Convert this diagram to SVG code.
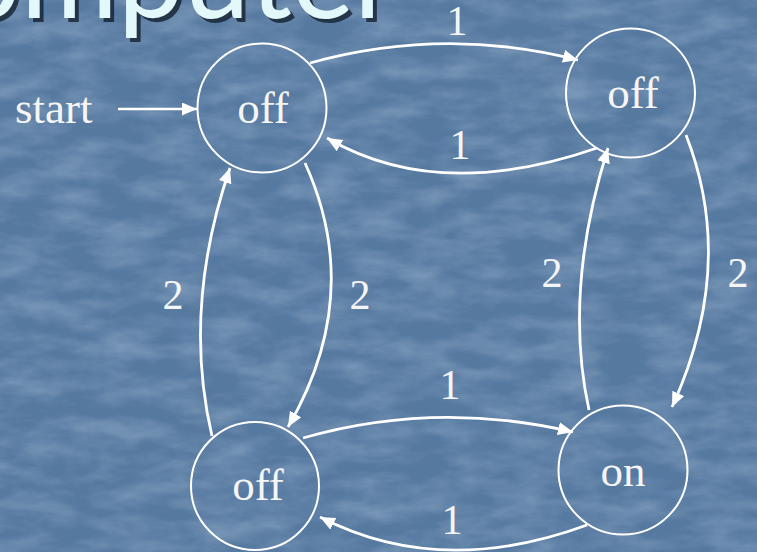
<svg xmlns="http://www.w3.org/2000/svg" width="757" height="552" viewBox="0 0 757 552">
  <defs>
    <filter id="grain" x="0" y="0" width="757" height="552" filterUnits="userSpaceOnUse">
      <feTurbulence type="fractalNoise" baseFrequency="0.02 0.05" numOctaves="4" seed="11"/>
      <feColorMatrix type="matrix" values="0 0 0 0 0.64  0 0 0 0 0.77  0 0 0 0 0.9  0.5 0 0 0 -0.17"/>
    </filter>
    <marker id="head" markerUnits="userSpaceOnUse" markerWidth="16" markerHeight="14" refX="15" refY="6.5" orient="auto">
      <path d="M0,0 L15,6.5 L0,13 z" fill="#ffffff"/>
    </marker>
    <style>
      .state { fill: none; stroke: #ffffff; stroke-width: 2; }
      .edge { fill: none; stroke: #ffffff; stroke-width: 2.8; marker-end: url(#head); }
      .name { font-family: "Liberation Serif", "Times New Roman", serif; font-size: 45px; fill: #f5f5f5; text-anchor: middle; }
      .weight { font-family: "Liberation Serif", "Times New Roman", serif; font-size: 42px; fill: #f5f5f5; text-anchor: middle; }
      .title { font-family: Lato, "Open Sans", sans-serif; font-size: 118px; text-anchor: end; }
    </style>
  </defs>

  <!-- textured blue backdrop -->
  <rect x="0" y="0" width="757" height="552" fill="#5679a0"/>
  <rect x="0" y="0" width="757" height="552" filter="url(#grain)"/>

  <!-- slide title, clipped at the top edge -->
  <g id="title">
    <text class="title" x="401" y="22" fill="#152030" fill-opacity="0.8">omputer</text>
    <text class="title" x="397" y="18" fill="#e2f8fa">omputer</text>
  </g>

  <!-- transitions -->
  <g id="connectors">
    <path class="edge" d="M310,63 Q445,26 578,60"/>
    <path class="edge" d="M597,148 Q438,203 327,138"/>
    <path class="edge" d="M305,163 Q365,295 288,427"/>
    <path class="edge" d="M212,436 Q182,308 230,168"/>
    <path class="edge" d="M686,135 Q737,265 672,407"/>
    <path class="edge" d="M589,410 Q563,291 608,148"/>
    <path class="edge" d="M303,438 Q436,400 573,432"/>
    <path class="edge" d="M587,525 Q440,579 320,517"/>
    <line x1="118" y1="109" x2="197" y2="109" stroke="#ffffff" stroke-width="2.5" marker-end="url(#head)"/>
  </g>

  <!-- transition weights -->
  <g id="weights">
    <text class="weight" x="457" y="35">1</text>
    <text class="weight" x="460" y="159">1</text>
    <text class="weight" x="173" y="309">2</text>
    <text class="weight" x="360" y="309">2</text>
    <text class="weight" x="552" y="287">2</text>
    <text class="weight" x="738" y="287">2</text>
    <text class="weight" x="450" y="399">1</text>
    <text class="weight" x="452" y="534">1</text>
  </g>

  <text id="start" class="name" x="15" y="123" style="text-anchor: start">start</text>

  <g id="s-top-left">
    <circle class="state" cx="262" cy="108" r="64.5"/>
    <text class="name" x="263" y="123">off</text>
  </g>
  <g id="s-top-right">
    <circle class="state" cx="630.5" cy="93" r="64.5"/>
    <text class="name" x="633" y="108">off</text>
  </g>
  <g id="s-bottom-left">
    <circle class="state" cx="255" cy="486" r="64"/>
    <text class="name" x="258" y="500">off</text>
  </g>
  <g id="s-bottom-right">
    <circle class="state" cx="623" cy="470" r="64.5"/>
    <text class="name" x="623" y="486">on</text>
  </g>
</svg>
